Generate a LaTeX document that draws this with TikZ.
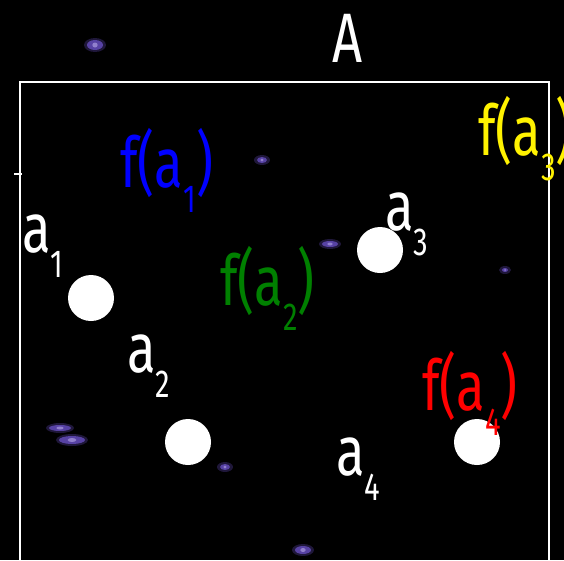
\documentclass[tikz,border=0pt]{standalone}
\usepackage{fontspec}
\setmainfont{Fira Sans}[FakeStretch=0.75]
\definecolor{nuage}{RGB}{125,95,235}
\definecolor{vert}{RGB}{0,128,0}
% indice bas, bien décalé comme sur l'image
\newcommand{\ind}[2]{#1\raisebox{-25pt}{\fontsize{39}{39}\selectfont #2}}

\begin{document}
\begin{tikzpicture}[x=1pt, y=-1pt, font=\fontsize{70}{70}\selectfont,
    point/.style={circle, fill=white, minimum size=46pt, inner sep=0pt},
    etiq/.style={anchor=base west, inner sep=0pt}]
    \useasboundingbox[fill=black] (0,0) rectangle (564,560);
    % petites taches violettes du fond, un peu floues
    \foreach \x / \y / \rx / \ry in {
        95 / 45 / 8 / 5,
        262 / 160 / 5 / 3,
        330 / 244 / 8 / 3,
        505 / 270 / 3 / 2,
        60 / 428 / 11 / 3,
        72 / 440 / 13 / 4,
        225 / 467 / 5 / 3,
        303 / 550 / 8 / 4
    }{
        \fill[nuage, opacity=.25] (\x, \y) ellipse ({\rx + 3} and {\ry + 2});
        \fill[nuage, opacity=.6] (\x, \y) ellipse ({\rx} and {\ry});
        \fill[nuage!40!white, opacity=.5] (\x, \y) ellipse ({\rx / 3} and {\ry / 2});
    }
    \draw[white, line width=1.5pt] (20,562) |- (549,82) -- (549,562);
    \draw[white, line width=1.5pt] (14,174) -- (22,174);
    \node[white, anchor=base] (titre) at (348,62) {A};
    % les points a_i
    \node[point] (p1) at (91,298) {};
    \node[point] (p2) at (188,442) {};
    \node[point] (p3) at (380,250) {};
    \node[point] (p4) at (477,442) {};
    \node[etiq, white] (a1) at (22,252) {\ind{a}{1}};
    \node[etiq, white] (a2) at (127,372) {\ind{a}{2}};
    \node[etiq, white] (a3) at (385,230) {\ind{a}{3}};
    \node[etiq, white] (a4) at (336,475) {\ind{a}{4}};
    % les images f(a_i)
    \node[etiq, blue] (f1) at (120,187) {f(\ind{a}{1})};
    \node[etiq, vert] (f2) at (220,305) {f(\ind{a}{2})};
    \node[etiq, yellow] (f3) at (478,155) {f(\ind{a}{3})};
    \node[etiq, red] (f4) at (422,410) {f(\ind{a}{4})};
\end{tikzpicture}
\end{document}
